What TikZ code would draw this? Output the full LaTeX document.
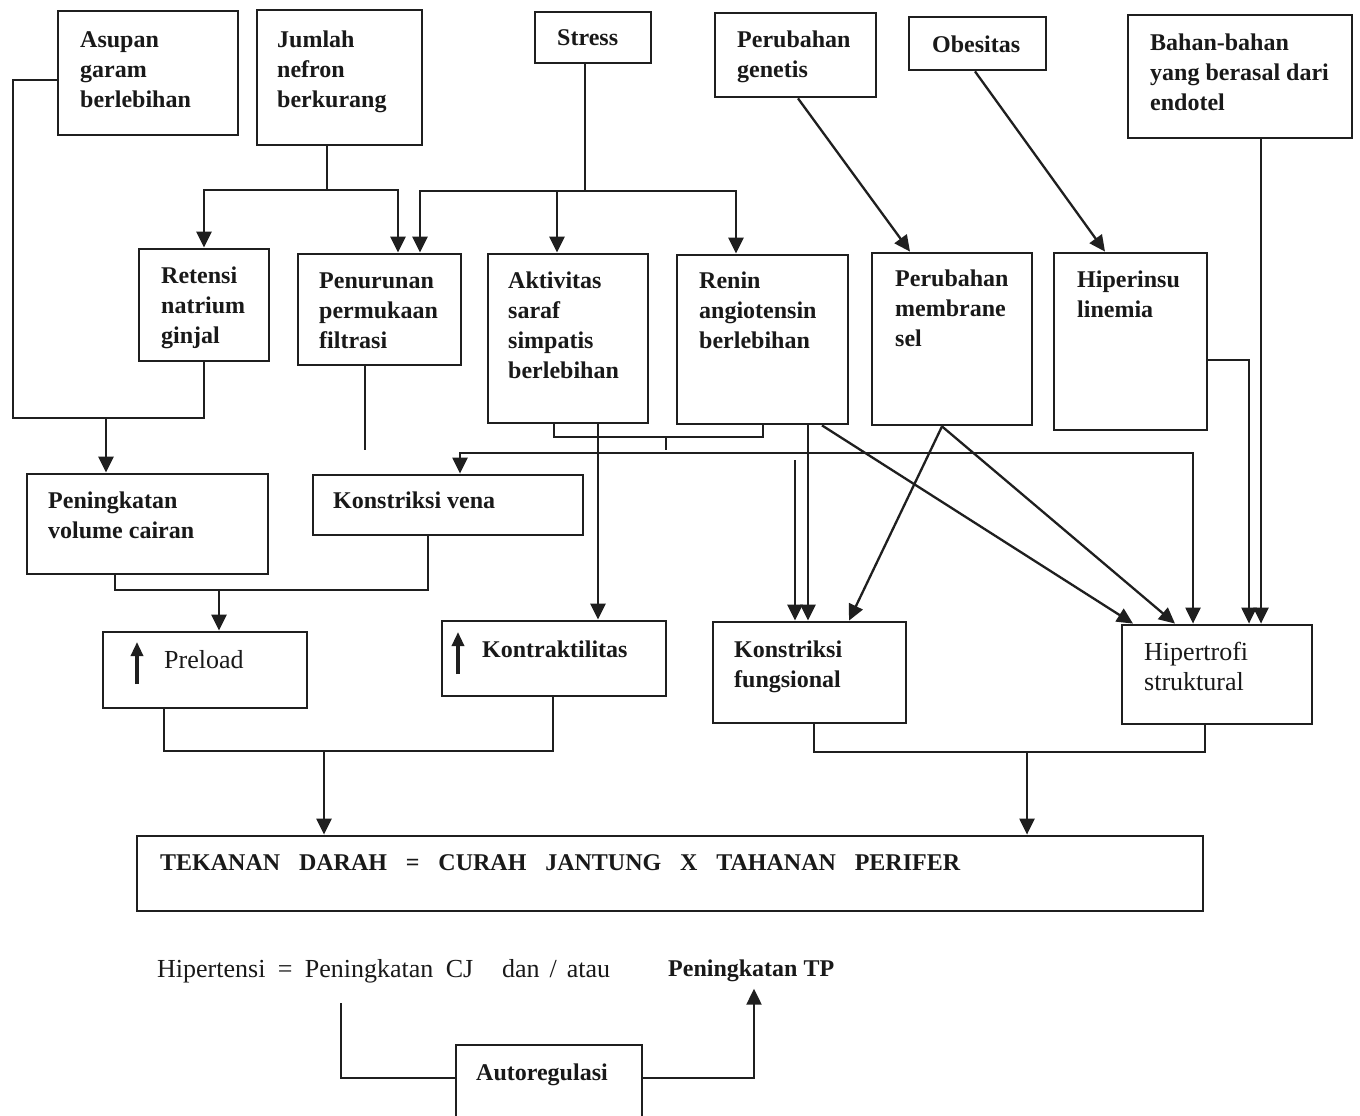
\documentclass[tikz,border=0pt]{standalone}
\usepackage{fontspec}
\setmainfont{Liberation Serif}
\usetikzlibrary{arrows.meta,calc}
\newcommand\firstlinestrut{\rule{0pt}{17pt}}
\begin{document}
\begin{tikzpicture}[x=1pt,y=-1pt,
  box/.style={draw=black!88, line width=2.8pt, rectangle, inner sep=0pt},
  lbl/.style={inner sep=0pt, anchor=north west, align=left, text=black!90,
              font=\fontsize{24}{30}\selectfont\bfseries},
  plain/.style={lbl, font=\fontsize{26}{30}\selectfont},
  ln/.style={draw=black!88, line width=2.3pt},
  thk/.style={draw=black!88, line width=2.9pt},
  tip/.style={-{Triangle[length=16pt,width=15pt]}},
  arr/.style={ln, tip},
  tarr/.style={thk, tip},
  uparr/.style={draw=black!88, line width=3.2pt, -{Triangle[length=14pt,width=12pt]}}
]
\fill[white] (0,0) rectangle (1360,1116);
\clip (0,0) rectangle (1360,1116);

% ---- top row: causes
\node[box, minimum width=180pt, minimum height=124pt] (asupan)  at (148,73) {};
\node[box, minimum width=165pt, minimum height=135pt] (jumlah)  at (339.5,77.5) {};
\node[box, minimum width=116pt, minimum height=51pt]  (stress)  at (593,37.5) {};
\node[box, minimum width=161pt, minimum height=84pt]  (genetis) at (795.5,55) {};
\node[box, minimum width=137pt, minimum height=53pt]  (obes)    at (977.5,43.5) {};
\node[box, minimum width=224pt, minimum height=123pt] (bahan)   at (1240,76.5) {};

\node[lbl] at (80,30)   {\firstlinestrut Asupan\\garam\\berlebihan};
\node[lbl] at (277,30)  {\firstlinestrut Jumlah\\nefron\\berkurang};
\node[lbl] at (557,28)  {\firstlinestrut Stress};
\node[lbl] at (737,30)  {\firstlinestrut Perubahan\\genetis};
\node[lbl] at (932,35)  {\firstlinestrut Obesitas};
\node[lbl] at (1150,33) {\firstlinestrut Bahan-bahan\\yang berasal dari\\endotel};

% ---- second row: mechanisms
\node[box, minimum width=130pt, minimum height=112pt] (retensi)   at (204,305) {};
\node[box, minimum width=163pt, minimum height=111pt] (penurunan) at (379.5,309.5) {};
\node[box, minimum width=160pt, minimum height=169pt] (aktivitas) at (568,338.5) {};
\node[box, minimum width=171pt, minimum height=169pt] (renin)     at (762.5,339.5) {};
\node[box, minimum width=160pt, minimum height=172pt] (membran)   at (952,339) {};
\node[box, minimum width=153pt, minimum height=177pt] (hiperins)  at (1130.5,341.5) {};

\node[lbl] at (161,266)  {\firstlinestrut Retensi\\natrium\\ginjal};
\node[lbl] at (319,271)  {\firstlinestrut Penurunan\\permukaan\\filtrasi};
\node[lbl] at (508,271)  {\firstlinestrut Aktivitas\\saraf\\simpatis\\berlebihan};
\node[lbl] at (699,271)  {\firstlinestrut Renin\\angiotensin\\berlebihan};
\node[lbl] at (895,269)  {\firstlinestrut Perubahan\\membrane\\sel};
\node[lbl] at (1077,270) {\firstlinestrut Hiperinsu\\linemia};

% ---- third row
\node[box, minimum width=241pt, minimum height=100pt] (cairan) at (147.5,524) {};
\node[box, minimum width=270pt, minimum height=60pt]  (vena)   at (448,505) {};
\node[lbl] at (48,491)  {\firstlinestrut Peningkatan\\volume cairan};
\node[lbl] at (333,491) {\firstlinestrut Konstriksi vena};

% ---- fourth row: effects
\node[box, minimum width=204pt, minimum height=76pt]  (preload)    at (205,670) {};
\node[box, minimum width=224pt, minimum height=75pt]  (kontrak)    at (554,658.5) {};
\node[box, minimum width=193pt, minimum height=101pt] (fungsi)     at (809.5,672.5) {};
\node[box, minimum width=190pt, minimum height=99pt]  (hipertrofi) at (1217,674.5) {};
\node[plain] at (164,650)  {\firstlinestrut Preload};
\node[lbl]   at (482,640)  {\firstlinestrut Kontraktilitas};
\node[lbl]   at (734,640)  {\firstlinestrut Konstriksi\\fungsional};
\node[plain] at (1144,642) {\firstlinestrut Hipertrofi\\struktural};
\draw[uparr] (137,684) -- (137,642);
\draw[uparr] (458,674) -- (458,632);

% ---- equation box and summary line
\node[box, minimum width=1066pt, minimum height=75pt] (tekanan) at (670,873.5) {};
\node[lbl] at (160,853) {\firstlinestrut\makebox[800pt][s]{TEKANAN DARAH = CURAH JANTUNG X TAHANAN PERIFER}};
\node[plain] (cj)  at (157,959) {\firstlinestrut\makebox[316pt][s]{Hipertensi = Peningkatan CJ}};
\node[plain] (dan) at (502,959) {\firstlinestrut\makebox[108pt][s]{dan / atau}};
\node[lbl]   (tp)  at (668,959) {\firstlinestrut Peningkatan TP};
\node[box, minimum width=186pt, minimum height=82pt] (auto) at (549,1086) {};
\node[lbl] at (476,1063) {\firstlinestrut Autoregulasi};

% ---- connectors from the causes
\coordinate (jb) at (327,190);
\coordinate (sb) at (585,191);
\draw[thk] ([yshift=-7pt]asupan.west) -| (13,418) -| (retensi.south);
\draw[tarr] (106,418) -- (cairan.north -| 106,0);
\draw[thk] (jumlah.south -| jb) -- (jb);
\draw[tarr] (jb) -| (retensi.north);
\draw[tarr] (jb) -| (penurunan.north -| 398,0);
\draw[thk] (stress.south -| sb) -- (sb);
\draw[tarr] (sb) -| (penurunan.north -| 420,0);
\draw[tarr] (sb) -| (aktivitas.north -| 557,0);
\draw[tarr] (sb) -| (renin.north -| 736,0);
\draw[arr] (genetis.south -| 798,0) -- (membran.north -| 910,0);
\draw[arr] (obes.south -| 975,0) -- (hiperins.north -| 1105,0);
\draw[arr] (bahan.south -| 1261,0) -- (hipertrofi.north -| 1261,0);
\draw[arr] (hiperins.east |- 0,360) -| (hipertrofi.north -| 1249,0);

% ---- connectors in the middle
\draw[ln] (penurunan.south -| 365,0) -- (365,450);
\draw[ln] (aktivitas.south -| 554,0) |- (666,437) -| (renin.south -| 763,0);
\draw[ln] (666,437) -- (666,450);
\draw[ln, {Triangle[length=16pt,width=15pt]}-{Triangle[length=16pt,width=15pt]}]
  (vena.north -| 460,0) |- (1193,453) -- (hipertrofi.north -| 1193,0);
\draw[tarr] (aktivitas.south -| 598,0) -- (kontrak.north -| 598,0);
\draw[tarr] (renin.south -| 808,0) -- (fungsi.north -| 808,0);
\draw[tarr] (795,460) -- (fungsi.north -| 795,0);
\draw[arr] (renin.south -| 822,0) -- (hipertrofi.north -| 1133,0);
\coordinate (mv) at (membran.south -| 942,0);
\draw[arr] (mv) -- (fungsi.north -| 849,0);
\draw[arr] (mv) -- (hipertrofi.north -| 1175,0);

% ---- connectors to the effects
\draw[ln] (vena.south -| 428,0) -- (428,590) -| (cairan.south -| 115,0);
\draw[arr] (219,590) -- (preload.north -| 219,0);
\draw[ln] (preload.south -| 164,0) -- (164,751) -| (kontrak.south -| 553,0);
\draw[arr] (324,751) -- (tekanan.north -| 324,0);
\draw[ln] (fungsi.south -| 814,0) -- (814,752) -| (hipertrofi.south -| 1205,0);
\draw[arr] (1027,752) -- (tekanan.north -| 1027,0);

% ---- autoregulation loop
\draw[ln] (auto.west |- 0,1078) -| (341,1003);
\draw[arr] (auto.east |- 0,1078) -| ($(tp.south -| 754,0)+(0,7)$);
\end{tikzpicture}
\end{document}
